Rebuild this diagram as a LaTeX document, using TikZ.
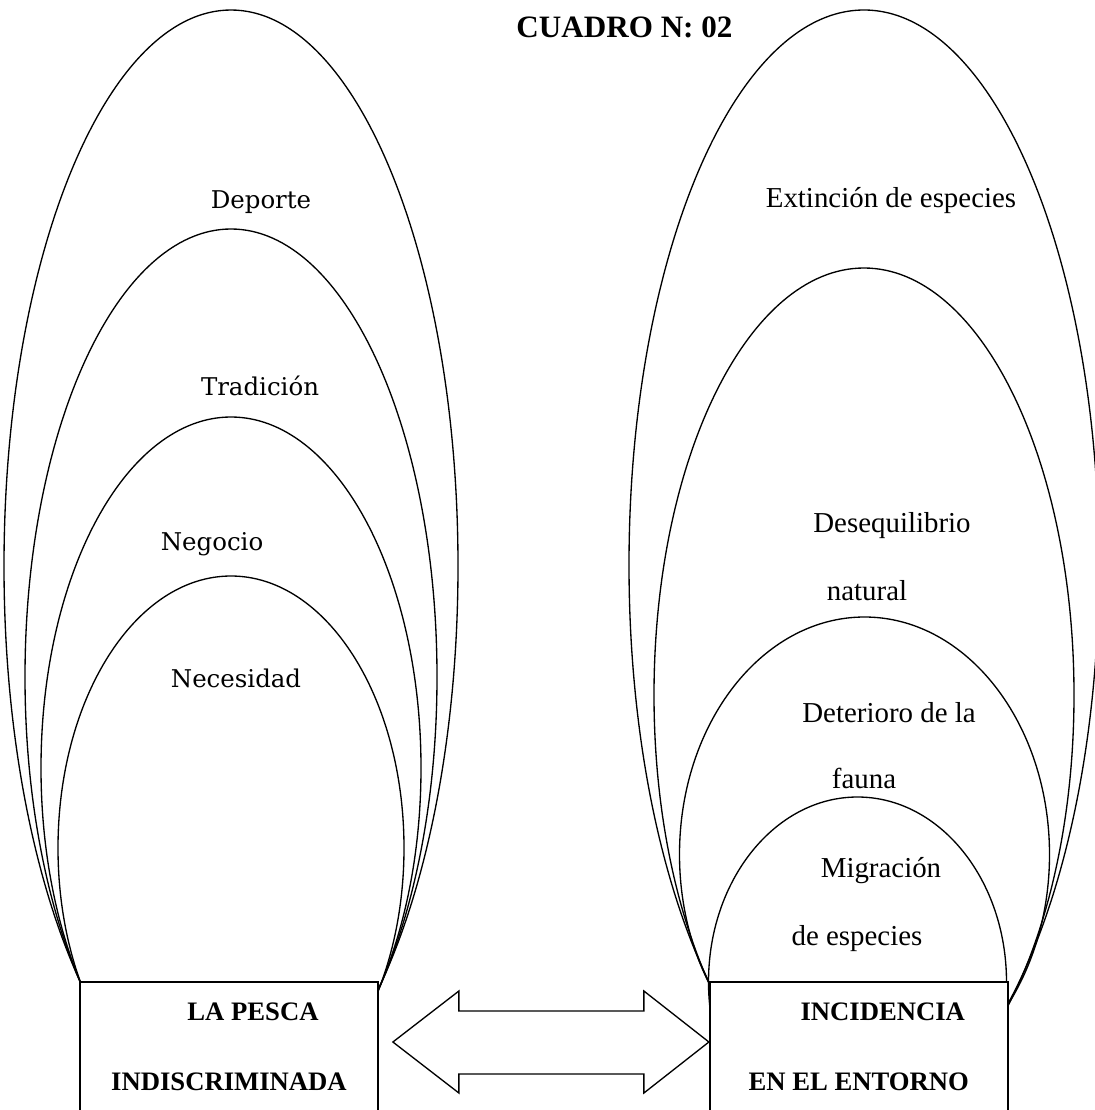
\documentclass[tikz,border=0pt]{standalone}
\usepackage{fontspec}
\setmainfont{Liberation Serif}
\newfontfamily\cambria{DejaVu Serif}
\usepackage{tikz}
\usetikzlibrary{positioning,calc}
\newcommand{\pxu}{0.45pt}

\begin{document}
\begin{tikzpicture}[
    x=\pxu, y=-\pxu,
    every node/.style={align=center},
    box/.style={draw, rectangle, fill=white, line width=0.8pt, inner sep=0pt,
        minimum width=298*\pxu, minimum height=130*\pxu,
        font=\fontsize{12}{31.5}\selectfont\bfseries},
    lobe/.style={line width=0.6pt},
    causa/.style={anchor=base, font=\cambria\fontsize{11}{13}\selectfont},
    efecto/.style={anchor=base, font=\fontsize{13}{15}\selectfont},
    dblarrow/.style={draw, fill=white, line width=0.6pt, line join=miter}
]
\useasboundingbox (0,0) rectangle (1094,1110);

% Title
\node[anchor=base, font=\fontsize{14}{16}\selectfont\bfseries] (titulo) at (624.5,37) {CUADRO N: 02};

% Left group: nested lobes
\draw[lobe] (231,566) ellipse [x radius=227, y radius=556];
\draw[lobe] (231,677) ellipse [x radius=206, y radius=448];
\draw[lobe] (231,768) ellipse [x radius=190, y radius=351];
\draw[lobe] (231,848) ellipse [x radius=173, y radius=272];

% Right group: nested lobes
\draw[lobe] (864,565) ellipse [x radius=235, y radius=555];
\draw[lobe] (864,695) ellipse [x radius=210, y radius=427];
\draw[lobe] (864.5,854.5) ellipse [x radius=185, y radius=237.5];
\draw[lobe] (857.5,982) ellipse [x radius=149, y radius=185];

% Boxes
\node[box] (pesca) at (229,1047) {\hspace*{21.6pt}LA PESCA\\INDISCRIMINADA};
\node[box, right=148.5pt of pesca] (entorno) {\hspace*{21.6pt}INCIDENCIA\\EN EL ENTORNO};

% Labels, left
\node[causa] (deporte) at (261,208) {Deporte};
\node[causa] (tradicion) at (260,395) {Tradición};
\node[causa] (negocio) at (212,550) {Negocio};
\node[causa] (necesidad) at (236,687) {Necesidad};

% Labels, right
\node[efecto] (extincion) at (891,207) {Extinción de especies};
\node[efecto] (deseq) at (892,532) {Desequilibrio};
\node[efecto] (natural) at (867,600) {natural};
\node[efecto] (deterioro) at (889,722) {Deterioro de la};
\node[efecto] (fauna) at (864,788) {fauna};
\node[efecto] (migracion) at (881,877) {Migración};
\node[efecto] (deespecies) at (857,945) {de especies};

% Double arrow between the boxes
\draw[dblarrow] ($(pesca.east)+(14,-5)$) -- ++(66,-51) -- ++(0,20) -- ++(185,0) -- ++(0,-20)
    -- ($(entorno.west)+(0,-5)$) -- ++(-65,51) -- ++(0,-19) -- ++(-185,0) -- ++(0,19) -- cycle;

\end{tikzpicture}
\end{document}
